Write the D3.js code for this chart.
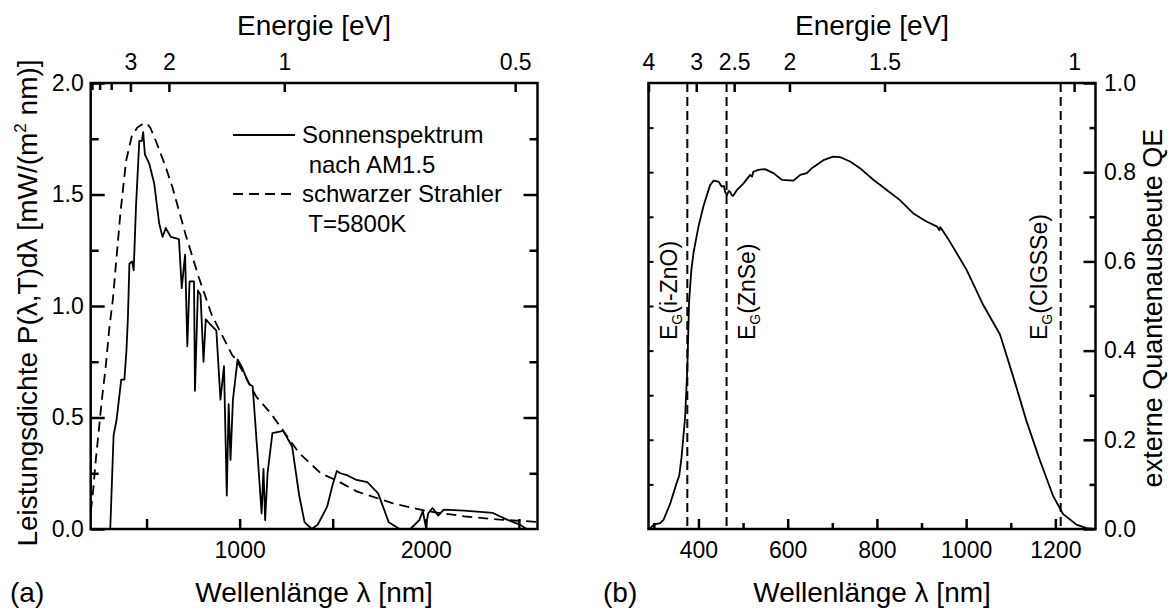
<!DOCTYPE html>
<html>
<head>
<meta charset="utf-8">
<title>Sonnenspektrum und Quantenausbeute</title>
<script src="https://d3js.org/d3.v7.min.js"></script>
<style>
  body { margin: 0; background: #fff; }
  svg text { font-family: "Liberation Sans", Arial, sans-serif; }
</style>
</head>
<body>
<svg id="chart" width="1169" height="609"></svg>
<script>
// ---- data, panel (a): AM1.5 spectrum and black body
var solarNm = [300, 305, 323, 339, 364, 381, 392, 400, 408, 422, 431, 443, 461, 475, 482, 491,
  514, 529, 541, 568, 586, 603, 630, 674, 689, 707, 719, 731, 755, 760, 776, 790, 806, 818,
  840, 875, 897, 916, 931, 941, 951, 964, 989, 1010, 1030, 1051, 1070, 1095, 1118, 1128, 1137,
  1150, 1176, 1234, 1282, 1320, 1349, 1388, 1420, 1445, 1470, 1500, 1522, 1541, 1580, 1628,
  1686, 1744, 1801, 1859, 1917, 1965, 1984, 2000, 2013, 2036, 2067, 2096, 2206, 2360, 2436,
  2504, 2542];
var solarPower = [0, 0, 0.42, 0.49, 0.67, 0.67, 0.80, 0.95, 1.19, 1.20, 1.16, 1.44, 1.74, 1.74, 1.78, 1.68,
  1.64, 1.59, 1.55, 1.37, 1.31, 1.35, 1.31, 1.30, 1.08, 1.23, 0.82, 1.11, 1.11, 0.62, 1.07, 1.05, 0.75, 0.94,
  0.92, 0.89, 0.58, 0.73, 0.15, 0.56, 0.31, 0.58, 0.76, 0.73, 0.69, 0.65, 0.64, 0.35, 0.07, 0.27, 0.04,
  0.25, 0.43, 0.44, 0.37, 0.15, 0.03, 0, 0.02, 0.06, 0.10, 0.20, 0.26, 0.25, 0.24, 0.22,
  0.21, 0.16, 0.03, 0, 0, 0.04, 0.08, 0.01, 0.07, 0.094, 0.06, 0.087, 0.082, 0.072, 0.042,
  0.02, 0];

var blackNm = [200, 208, 215, 225, 242, 260, 281, 300, 319, 337, 360, 390, 420, 450, 480, 500, 520,
  550, 600, 640, 710, 780, 850, 960, 983, 1089, 1166, 1243, 1320, 1436, 1532, 1628, 1820, 2012,
  2206, 2398, 2600];
var blackPower = [0.08, 0.13, 0.19, 0.29, 0.43, 0.58, 0.73, 0.90, 1.03, 1.20, 1.42, 1.65, 1.76, 1.80, 1.817, 1.82, 1.80,
  1.74, 1.63, 1.53, 1.32, 1.13, 0.96, 0.78, 0.758, 0.594, 0.52, 0.43, 0.34, 0.25, 0.213, 0.169, 0.116, 0.079,
  0.057, 0.042, 0.032];

var energyLabelsA = ["3", "2", "1", "0.5"];
var energyValuesA = [3, 2, 1, 0.5];
var energyMinorA = [6, 5, 4];

// ---- data, panel (b): external quantum efficiency
var qeNm = [290, 300, 314, 322, 337, 350, 357, 362, 370, 375, 379, 384, 389, 400, 411, 426, 434, 445,
  452, 457, 460, 464, 468, 471, 475, 478, 486, 501, 516, 520, 523, 534, 549, 568, 587, 613, 628,
  643, 654, 680, 702, 717, 740, 762, 792, 822, 851, 881, 910, 935, 940, 942, 960, 987, 1001, 1039,
  1076, 1106, 1135, 1165, 1195, 1217, 1247, 1270, 1288];
var qeValue = [0, 0.01, 0.013, 0.021, 0.058, 0.10, 0.12, 0.16, 0.25, 0.36, 0.51, 0.58, 0.62, 0.678, 0.723, 0.771, 0.781, 0.779,
  0.768, 0.769, 0.755, 0.749, 0.758, 0.756, 0.748, 0.747, 0.760, 0.775, 0.794, 0.790, 0.801, 0.805, 0.807, 0.798, 0.783, 0.781, 0.794,
  0.798, 0.809, 0.827, 0.835, 0.834, 0.824, 0.809, 0.783, 0.760, 0.738, 0.708, 0.69, 0.678, 0.67, 0.677, 0.65, 0.605, 0.581, 0.501,
  0.436, 0.340, 0.243, 0.155, 0.074, 0.034, 0.010, 0.002, 0];

var energyLabelsB = ["4", "3", "2.5", "2", "1.5", "1"];
var energyPosB = [288, 395, 480, 604, 817, 1242];   // nm where the eV ticks sit

var gapNames = ["i-ZnO", "ZnSe", "CIGSSe"];
var gapNm = [375, 463, 1212];

// ---- drawing
var svg = d3.select("#chart");
svg.append("rect").attr("width", 1169).attr("height", 609).attr("fill", "#fff");

function axis(gen, tx, ty, width) {
  var g = svg.append("g")
    .attr("transform", "translate(" + tx + "," + ty + ")")
    .call(gen);
  g.attr("font-family", null).attr("font-size", 23);
  g.select(".domain").remove();
  g.selectAll(".tick line").attr("stroke-width", width || 2.5);
  return g;
}

function frame(x, y) {
  svg.append("rect")
    .attr("x", x.range()[0]).attr("y", y.range()[1])
    .attr("width", x.range()[1] - x.range()[0])
    .attr("height", y.range()[0] - y.range()[1])
    .attr("fill", "none").attr("stroke", "#000").attr("stroke-width", 2.5);
}

function title(txt, x, y, rot) {
  return svg.append("text")
    .attr("transform", "translate(" + x + "," + y + ")" + (rot ? " rotate(-90)" : ""))
    .attr("text-anchor", "middle")
    .attr("font-size", 28)
    .text(txt);
}

// ================= panel (a)
var xa = d3.scaleLinear().domain([200, 2600]).range([90.7, 537.5]);
var ya = d3.scaleLinear().domain([0, 2]).range([529, 83]);

axis(d3.axisBottom(xa).tickValues([500, 1000, 1500, 2000, 2500]).tickSize(-10).tickPadding(13)
  .tickFormat(function(d) { return d % 1000 === 0 ? d : ""; }), 0, 529);
axis(d3.axisLeft(ya).tickValues([0, 0.5, 1, 1.5, 2]).tickSize(-14).tickPadding(7)
  .tickFormat(d3.format(".1f")), 90.7, 0);
axis(d3.axisLeft(ya).tickValues([0.25, 0.75, 1.25, 1.75]).tickSize(-8).tickFormat(""), 90.7, 0);
axis(d3.axisRight(ya).tickValues([0.5, 1, 1.5]).tickSize(-14).tickFormat(""), 537.5, 0);
axis(d3.axisRight(ya).tickValues([0.25, 0.75, 1.25, 1.75]).tickSize(-8).tickFormat(""), 537.5, 0);
axis(d3.axisTop(xa).tickValues(energyValuesA.map(function(e) { return 1240 / e; })).tickSize(-9).tickPadding(13)
  .tickFormat(function(d, i) { return energyLabelsA[i]; }), 0, 83);
axis(d3.axisTop(xa).tickValues(energyMinorA.map(function(e) { return 1240 / e; })).tickSize(-7).tickFormat(""), 0, 83);

var lineA = d3.line().x(function(d) { return xa(d[0]); }).y(function(d) { return ya(d[1]); });

svg.append("path").datum(d3.zip(blackNm, blackPower))
  .attr("d", lineA).attr("fill", "none").attr("stroke", "#000")
  .attr("stroke-width", 1.8).attr("stroke-dasharray", "10,6");
svg.append("path").datum(d3.zip(solarNm, solarPower))
  .attr("d", lineA).attr("fill", "none").attr("stroke", "#000")
  .attr("stroke-width", 1.8).attr("stroke-linejoin", "round");

frame(xa, ya);

// legend
svg.append("line").attr("x1", 233).attr("x2", 295).attr("y1", 135).attr("y2", 135)
  .attr("stroke", "#000").attr("stroke-width", 1.8);
svg.append("line").attr("x1", 233).attr("x2", 293).attr("y1", 194).attr("y2", 194)
  .attr("stroke", "#000").attr("stroke-width", 1.8).attr("stroke-dasharray", "10,6");
var legendRows = [["Sonnenspektrum", 302, 143], [" nach AM1.5", 302, 173],
                  ["schwarzer Strahler", 302, 202], [" T=5800K", 302, 232]];
legendRows.forEach(function(r) {
  svg.append("text").attr("x", r[1]).attr("y", r[2]).attr("font-size", 24)
    .attr("xml:space", "preserve").text(r[0]);
});

title("Energie [eV]", 314, 35);
title("Wellenlänge λ [nm]", 314, 602);
svg.append("text").attr("x", 10).attr("y", 602).attr("font-size", 28).text("(a)");

var ytA = title("", 37, 303, true);
ytA.append("tspan").text("Leistungsdichte P(λ,T)dλ [mW/(m");
ytA.append("tspan").attr("font-size", 17).attr("dy", -11).text("2");
ytA.append("tspan").attr("dy", 11).text(" nm)]");

// ================= panel (b)
var xb = d3.scaleLinear().domain([288, 1290]).range([648.5, 1095.5]);
var yb = d3.scaleLinear().domain([0, 1]).range([529, 83]);

axis(d3.axisBottom(xb).tickValues([400, 600, 800, 1000, 1200]).tickSize(-10).tickPadding(13)
  .tickFormat(d3.format("d")), 0, 529);
axis(d3.axisBottom(xb).tickValues([300, 500, 700, 900, 1100]).tickSize(-6).tickFormat(""), 0, 529);
axis(d3.axisLeft(yb).tickValues(d3.range(1, 10).map(function(i) { return i / 10; })).tickSize(-5).tickFormat(""), 648.5, 0, 2);
axis(d3.axisRight(yb).tickValues([0, 0.2, 0.4, 0.6, 0.8, 1]).tickSize(-12).tickPadding(8.5)
  .tickFormat(d3.format(".1f")), 1095.5, 0);
axis(d3.axisRight(yb).tickValues([0.1, 0.3, 0.5, 0.7, 0.9]).tickSize(-6).tickFormat(""), 1095.5, 0);
axis(d3.axisTop(xb).tickValues(energyPosB).tickSize(-9).tickPadding(13)
  .tickFormat(function(d, i) { return energyLabelsB[i]; }), 0, 83);

// band gap markers
var gapOffset = [-10.5, 28.5, -13.5];
gapNm.forEach(function(nm, i) {
  svg.append("line").attr("x1", xb(nm)).attr("x2", xb(nm))
    .attr("y1", yb(1)).attr("y2", yb(0))
    .attr("stroke", "#000").attr("stroke-width", 2).attr("stroke-dasharray", "9,5");
  var t = svg.append("text")
    .attr("transform", "translate(" + (xb(nm) + gapOffset[i]) + ",340) rotate(-90)")
    .attr("font-size", 23);
  t.append("tspan").text("E");
  t.append("tspan").attr("font-size", 14).attr("dy", 5).text("G");
  t.append("tspan").attr("dy", -5).text("(" + gapNames[i] + ")");
});

var lineB = d3.line().x(function(d) { return xb(d[0]); }).y(function(d) { return yb(d[1]); });
svg.append("path").datum(d3.zip(qeNm, qeValue))
  .attr("d", lineB).attr("fill", "none").attr("stroke", "#000")
  .attr("stroke-width", 1.8).attr("stroke-linejoin", "round");

frame(xb, yb);

title("Energie [eV]", 872, 35);
title("Wellenlänge λ [nm]", 872, 602);
svg.append("text").attr("x", 603).attr("y", 602).attr("font-size", 28).text("(b)");
title("externe Quantenausbeute QE", 1162, 308, true).attr("font-size", 27);
</script>
</body>
</html>
